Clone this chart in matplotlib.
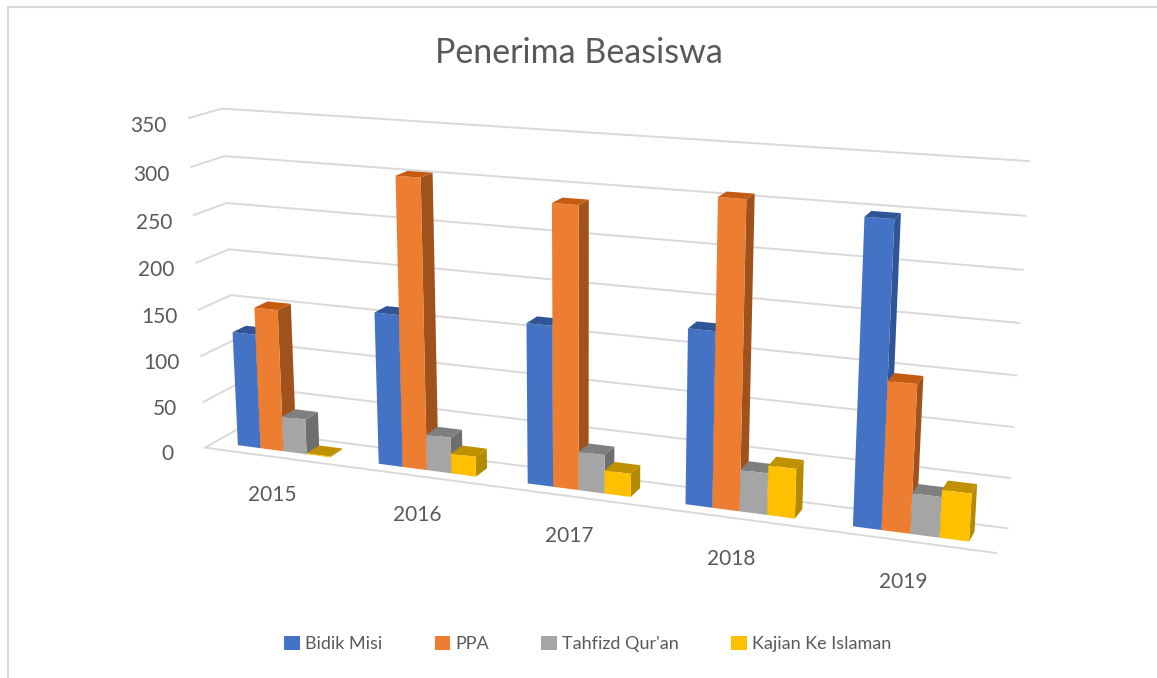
import numpy as np
import matplotlib
matplotlib.use("Agg")
import matplotlib.pyplot as plt
from matplotlib.patches import Patch
from matplotlib.lines import Line2D

# data
years = ["2015", "2016", "2017", "2018", "2019"]
series = ["Bidik Misi", "PPA", "Tahfizd Qur'an", "Kajian Ke Islaman"]
bidik_misi = [124, 161, 166, 177, 298]
ppa = [153, 303, 288, 306, 146]
tahfizd = [38, 38, 40, 42, 40]
kajian = [1, 21, 24, 50, 47]
z_ticks = [0, 50, 100, 150, 200, 250, 300, 350]

# colours: front, top, side for each series
front = ["#4472C4", "#ED7D31", "#A5A5A5", "#FFC000"]
top = ["#2F5597", "#C55A11", "#7F7F7F", "#BF9000"]
side = ["#2F5597", "#A0521C", "#6E6E6E", "#B48A00"]
hidden = (1, 1, 1, 0)

plt.rcParams["font.family"] = ["Lato", "DejaVu Sans"]
txt = "#595959"
grid_c = "#d9d9d9"

fig = plt.figure(figsize=(11.57, 6.78), dpi=100)
# big square 3d axes (it is shrunk to a square), centred on the plot box
ax = fig.add_axes([0.105, -0.1477, 0.778, 1.327], projection="3d",
                  computed_zorder=False)
ax.set_proj_type("persp", focal_length=0.41)

vals = np.array([bidik_misi, ppa, tahfizd, kajian])  # series x years
bw = 0.165
ylen = 0.4
depth = bw / ylen
k = 0
for i in range(len(years)):
    for j in range(len(series)):
        # face order: bottom, top, front(-y), back(+y), left(-x), right(+x)
        cols = [hidden, top[j], front[j], hidden, hidden, side[j]]
        col = ax.bar3d(i - 2 * bw + j * bw, 0.5 - depth / 2, 0, bw, depth,
                       vals[j, i], color=cols, shade=False,
                       edgecolor="none", linewidth=0, zorder=k)
        col.set_clip_on(False)
        k += 1

ax.set_xlim(-0.5, 4.5)
ax.set_ylim(0, 1)
ax.set_zlim(0, 350)
ax.set_box_aspect((5, ylen, 2.11))
ax.view_init(elev=15, azim=-69)

for a in (ax.xaxis, ax.yaxis, ax.zaxis):
    a.set_pane_color((1, 1, 1, 0))
    a.pane.set_edgecolor((1, 1, 1, 0))
    a._axinfo["tick"]["inward_factor"] = 0
    a._axinfo["tick"]["outward_factor"] = 0
ax.xaxis.line.set_color(grid_c)
ax.xaxis.line.set_linewidth(1.4)
ax.yaxis.line.set_visible(False)
ax.zaxis.line.set_visible(False)
ax.xaxis._axinfo["grid"]["color"] = (1, 1, 1, 0)
ax.yaxis._axinfo["grid"]["color"] = (1, 1, 1, 0)
ax.zaxis._axinfo["grid"]["color"] = grid_c
ax.zaxis._axinfo["grid"]["linewidth"] = 1.4
ax.zaxis.set_ticks_position("lower")

ax.set_xticks(range(len(years)))
ax.set_xticklabels(years, color=txt, fontsize=15)
ax.set_yticks([])
ax.set_zticks(z_ticks)
ax.set_zticklabels([str(z) for z in z_ticks], color=txt, fontsize=15)
ax.tick_params(axis="x", pad=20)
ax.tick_params(axis="z", pad=10)

fig.suptitle("Penerima Beasiswa", y=0.945, fontsize=24.5, color=txt)

handles = [Patch(facecolor=c, edgecolor="none") for c in front]
fig.legend(handles, series, loc="center", bbox_to_anchor=(0.508, 0.05), ncol=4,
           frameon=False, fontsize=13, labelcolor=txt, handlelength=0.85,
           handleheight=0.85, handletextpad=0.3, columnspacing=2.9)

# chart border (left and top edges visible)
fig.add_artist(Line2D([0.0065, 0.0065], [0, 0.9895], color=grid_c, lw=1.5))
fig.add_artist(Line2D([0.0065, 1], [0.9895, 0.9895], color=grid_c, lw=1.5))

fig.savefig("out.png", dpi=100)
